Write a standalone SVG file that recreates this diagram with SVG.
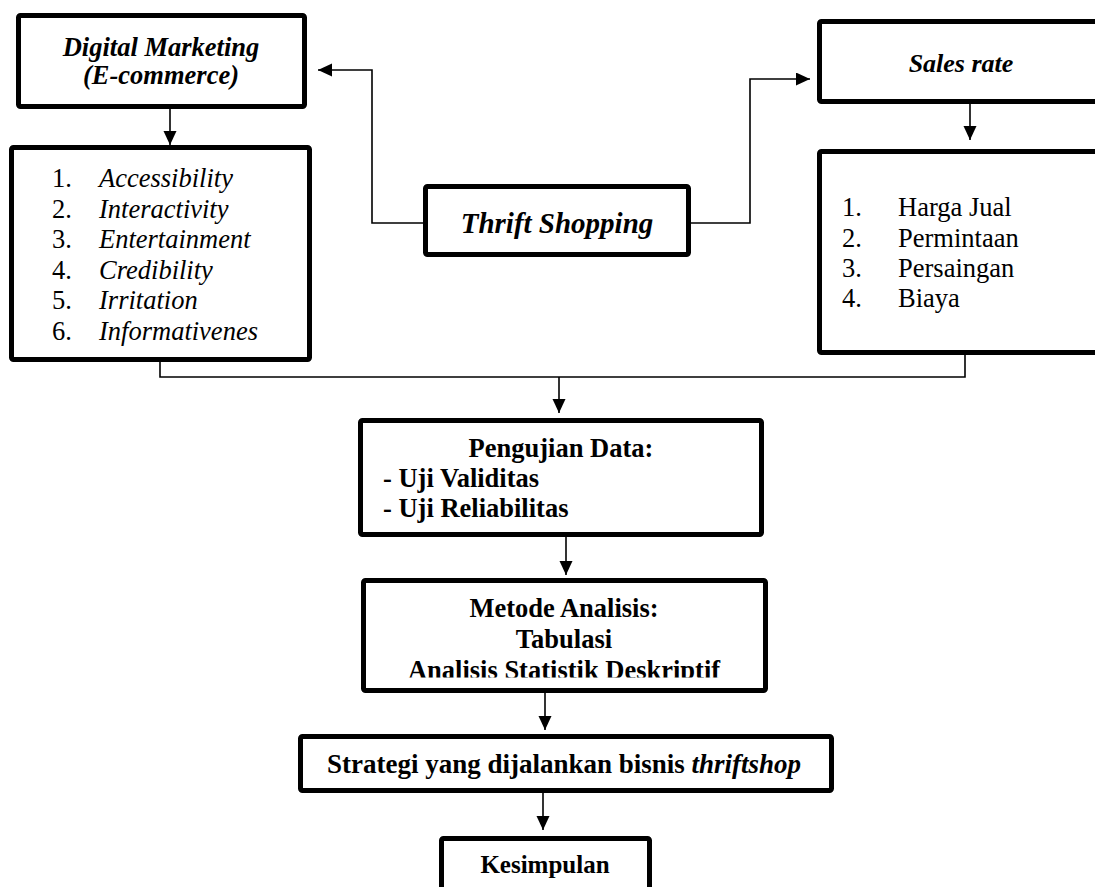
<svg xmlns="http://www.w3.org/2000/svg" width="1095" height="887" viewBox="0 0 1095 887">
<style>
.box{fill:#fff;stroke:#000;stroke-width:5}
.con{fill:none;stroke:#000;stroke-width:1.6}
text{font-family:"Liberation Serif","Times New Roman",serif;fill:#000}
.bi{font-weight:bold;font-style:italic}
.b{font-weight:bold}
.i{font-style:italic}
.l{font-size:26.5px}
.c{text-anchor:middle}
</style>
<defs>
<marker id="ah" markerUnits="userSpaceOnUse" markerWidth="15" markerHeight="14" refX="14" refY="6.5" orient="auto">
<path d="M0,0 L14,6.5 L0,13 z" fill="#000"/>
</marker>
<clipPath id="clipM"><rect x="360" y="580" width="410" height="97.5"/></clipPath>
</defs>
<rect width="1095" height="887" fill="#fff"/>
<g id="connectors">
<polyline class="con" points="423,223 372,223 372,70 318,70" marker-end="url(#ah)"/>
<polyline class="con" points="691,223 750,223 750,79 810,79" marker-end="url(#ah)"/>
<line class="con" x1="170" y1="109" x2="170" y2="145" marker-end="url(#ah)"/>
<line class="con" x1="970" y1="104" x2="970" y2="140" marker-end="url(#ah)"/>
<polyline class="con" points="160,362 160,377 965,377 965,355"/>
<line class="con" x1="559" y1="377" x2="559" y2="413" marker-end="url(#ah)"/>
<line class="con" x1="566" y1="537" x2="566" y2="575" marker-end="url(#ah)"/>
<line class="con" x1="545" y1="693" x2="545" y2="730" marker-end="url(#ah)"/>
<line class="con" x1="543" y1="793" x2="543" y2="830" marker-end="url(#ah)"/>
</g>
<g id="digital-marketing">
<rect class="box" x="18.5" y="15.5" width="286" height="91" rx="2"/>
<text class="bi c" x="161" y="56" font-size="26.5">Digital Marketing</text>
<text class="bi c" x="161" y="84" font-size="26.5">(E-commerce)</text>
</g>
<g id="dm-indicators">
<rect class="box" x="11.5" y="147.5" width="298" height="212" rx="2"/>
<g class="l">
<text x="52" y="187">1.</text><text class="i" x="99" y="187">Accessibility</text>
<text x="52" y="218">2.</text><text class="i" x="99" y="218">Interactivity</text>
<text x="52" y="248">3.</text><text class="i" x="99" y="248">Entertainment</text>
<text x="52" y="279">4.</text><text class="i" x="99" y="279">Credibility</text>
<text x="52" y="309">5.</text><text class="i" x="99" y="309">Irritation</text>
<text x="52" y="340">6.</text><text class="i" x="99" y="340">Informativenes</text>
</g>
</g>
<g id="thrift-shopping">
<rect class="box" x="425.5" y="186.5" width="263" height="68" rx="2"/>
<text class="bi c" x="557" y="233" font-size="29">Thrift Shopping</text>
</g>
<g id="sales-rate">
<rect class="box" x="819.5" y="21.5" width="290" height="80" rx="2"/>
<text class="bi c" x="961" y="72" font-size="26">Sales rate</text>
</g>
<g id="sales-indicators">
<rect class="box" x="819.5" y="151.5" width="290" height="201" rx="2"/>
<g class="l">
<text x="842" y="216">1.</text><text x="898" y="216">Harga Jual</text>
<text x="842" y="247">2.</text><text x="898" y="247">Permintaan</text>
<text x="842" y="277">3.</text><text x="898" y="277">Persaingan</text>
<text x="842" y="307">4.</text><text x="898" y="307">Biaya</text>
</g>
</g>
<g id="pengujian">
<rect class="box" x="360.5" y="420.5" width="401" height="114" rx="2"/>
<text class="b c l" x="561" y="457">Pengujian Data:</text>
<text class="b l" x="383" y="487">- Uji Validitas</text>
<text class="b l" x="383" y="517">- Uji Reliabilitas</text>
</g>
<g id="metode">
<rect class="box" x="363.5" y="580.5" width="402" height="110" rx="2"/>
<text class="b c l" x="564" y="617">Metode Analisis:</text>
<text class="b c l" x="564" y="648">Tabulasi</text>
<text class="b c l" x="564" y="679" clip-path="url(#clipM)">Analisis Statistik Deskriptif</text>
</g>
<g id="strategi">
<rect class="box" x="300.5" y="736.5" width="531" height="54" rx="2"/>
<text class="b c" x="564" y="773" font-size="27">Strategi yang dijalankan bisnis <tspan font-style="italic">thriftshop</tspan></text>
</g>
<g id="kesimpulan">
<rect class="box" x="441.5" y="838.5" width="208" height="70" rx="2"/>
<text class="b c" x="545" y="873" font-size="25">Kesimpulan</text>
</g>
</svg>
